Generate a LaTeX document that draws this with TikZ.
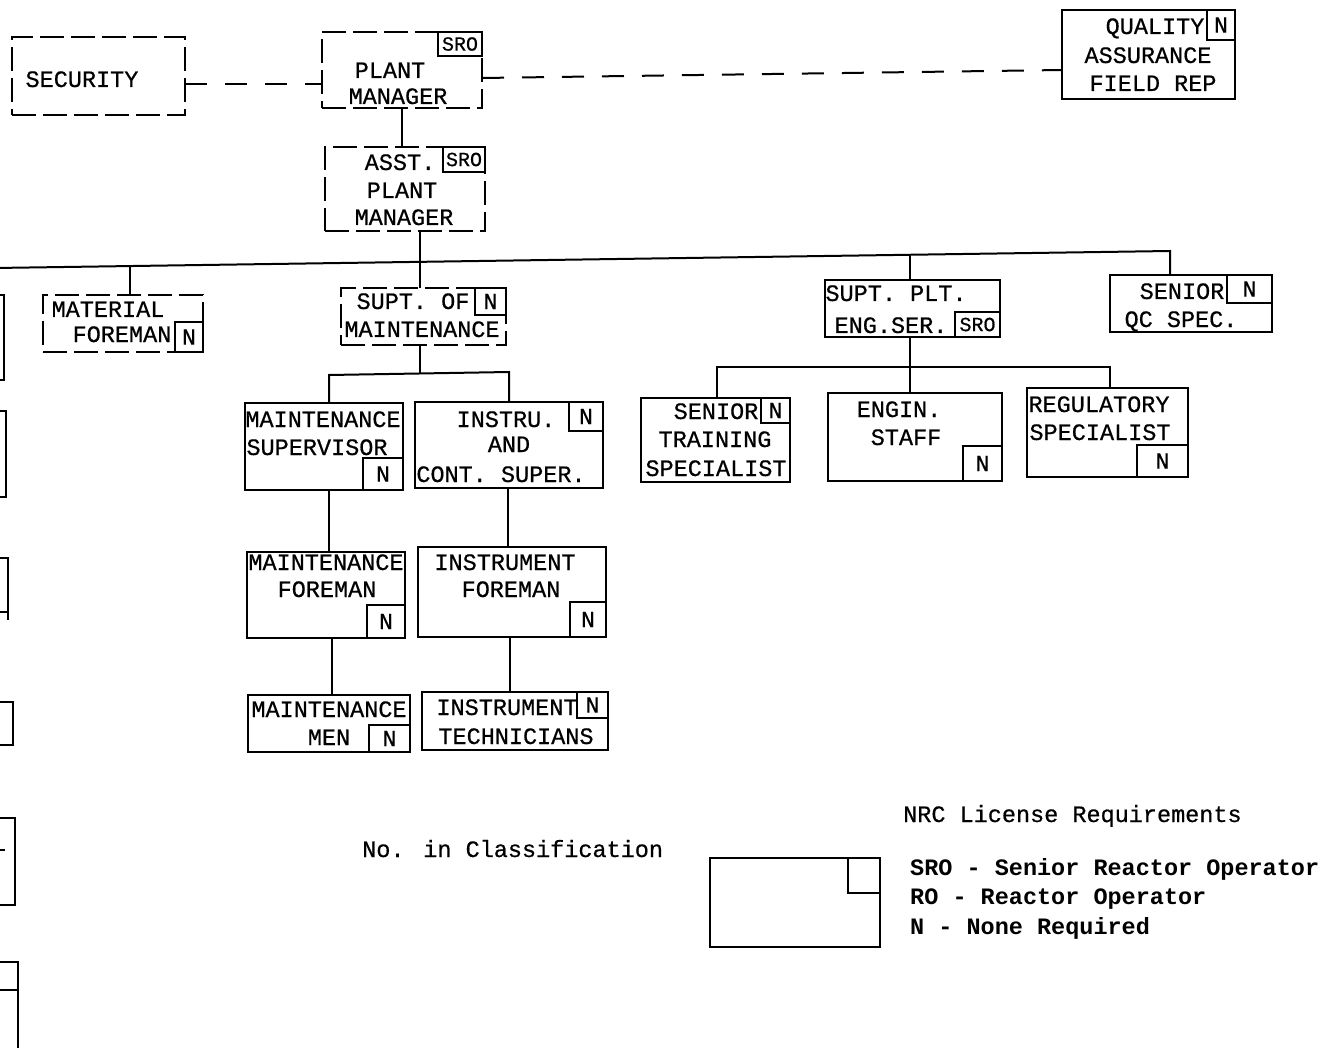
\documentclass[tikz,border=0pt]{standalone}
\usepackage{fontspec}
\setmainfont{Liberation Mono}
\usetikzlibrary{calc}
\begin{document}
\begin{tikzpicture}[x=1pt,y=-1pt,
 box/.style={draw, line width=2pt, inner sep=0pt, outer sep=0pt, anchor=north west},
 dbox/.style={box, dash pattern=on 24pt off 7pt},
 tag/.style={draw, line width=1.8pt, inner sep=0pt, outer sep=0pt, font=\fontsize{23}{24}\selectfont\addfontfeature{FakeBold=0.6}},
 stag/.style={tag, font=\fontsize{20}{22}\selectfont\addfontfeature{FakeBold=0.6}},
 lbl/.style={inner sep=0pt, anchor=base, font=\fontsize{23.5}{27}\selectfont\addfontfeature{FakeBold=0.6}},
 lbll/.style={lbl, anchor=base west},
 lblb/.style={lbll, font=\fontsize{23.5}{27}\selectfont\bfseries},
 conn/.style={line width=2pt},
 dconn/.style={line width=2pt, dash pattern=on 22pt off 18pt},
 frag/.style={line width=2pt}]
\fill[white] (0,0) rectangle (1327,1048);
\useasboundingbox (0,0) rectangle (1327,1048);

% ---- boxes ----
\node[dbox, minimum width=173pt, minimum height=78pt] (sec) at (12,37) {};
\node[dbox, minimum width=160pt, minimum height=76pt] (pm) at (322,32) {};
\node[stag, minimum width=44pt, minimum height=24pt, anchor=north east] (pmt) at (pm.north east) {SRO};
\node[dbox, minimum width=160pt, minimum height=84pt] (asst) at (325,147) {};
\node[stag, minimum width=42pt, minimum height=25pt, anchor=north east] (asstt) at (asst.north east) {SRO};
\node[box, minimum width=173pt, minimum height=89pt] (qa) at (1062,10) {};
\node[tag, minimum width=28pt, minimum height=30pt, anchor=north east] (qat) at (qa.north east) {N};
\node[dbox, minimum width=160pt, minimum height=57pt] (mat) at (43,295) {};
\node[tag, minimum width=28pt, minimum height=30pt, anchor=south east] (matt) at (mat.south east) {N};
\node[dbox, minimum width=165pt, minimum height=57pt] (som) at (341,288) {};
\node[tag, minimum width=31pt, minimum height=27pt, anchor=north east] (somt) at (som.north east) {N};
\node[box, minimum width=175pt, minimum height=57pt] (sp) at (825,280) {};
\node[stag, minimum width=45pt, minimum height=25pt, anchor=south east] (spt) at (sp.south east) {SRO};
\node[box, minimum width=162pt, minimum height=57pt] (sqc) at (1110,275) {};
\node[tag, minimum width=45pt, minimum height=28pt, anchor=north east] (sqct) at (sqc.north east) {N};
\node[box, minimum width=158pt, minimum height=87pt] (ms) at (245,403) {};
\node[tag, minimum width=40pt, minimum height=32pt, anchor=south east] (mst) at (ms.south east) {N};
\node[box, minimum width=188pt, minimum height=86pt] (ic) at (415,402) {};
\node[tag, minimum width=34pt, minimum height=29pt, anchor=north east] (ict) at (ic.north east) {N};
\node[box, minimum width=158pt, minimum height=86pt] (mf) at (247,552) {};
\node[tag, minimum width=38pt, minimum height=33pt, anchor=south east] (mft) at (mf.south east) {N};
\node[box, minimum width=188pt, minimum height=90pt] (instf) at (418,547) {};
\node[tag, minimum width=36pt, minimum height=35pt, anchor=south east] (instft) at (instf.south east) {N};
\node[box, minimum width=162pt, minimum height=57pt] (mm) at (248,695) {};
\node[tag, minimum width=41pt, minimum height=27pt, anchor=south east] (mmt) at (mm.south east) {N};
\node[box, minimum width=186pt, minimum height=58pt] (it) at (422,692) {};
\node[tag, minimum width=31pt, minimum height=26pt, anchor=north east] (itt) at (it.north east) {N};
\node[box, minimum width=149pt, minimum height=84pt] (st) at (641,398) {};
\node[tag, minimum width=29pt, minimum height=25pt, anchor=north east] (stt) at (st.north east) {N};
\node[box, minimum width=174pt, minimum height=88pt] (eng) at (828,393) {};
\node[tag, minimum width=39pt, minimum height=35pt, anchor=south east] (engt) at (eng.south east) {N};
\node[box, minimum width=161pt, minimum height=89pt] (reg) at (1027,388) {};
\node[tag, minimum width=51pt, minimum height=32pt, anchor=south east] (regt) at (reg.south east) {N};
\node[box, minimum width=170pt, minimum height=89pt] (leg) at (710,858) {};
\node[tag, minimum width=32pt, minimum height=35pt, anchor=north east] (legt) at (leg.north east) {};

% ---- labels ----
\node[lbl] (l1) at (82,87) {SECURITY};
\node[lbl] (l2) at (390,78) {PLANT};
\node[lbl] (l3) at (398,104) {MANAGER};
\node[lbl] (l4) at (400,170) {ASST.};
\node[lbl] (l5) at (402,198) {PLANT};
\node[lbl] (l6) at (404,225) {MANAGER};
\node[lbl] (l7) at (1155,34) {QUALITY};
\node[lbl] (l8) at (1148,63) {ASSURANCE};
\node[lbl] (l9) at (1153,91) {FIELD REP};
\node[lbl] (l10) at (108,317) {MATERIAL};
\node[lbl] (l11) at (122,342) {FOREMAN};
\node[lbl] (l12) at (413,309) {SUPT. OF};
\node[lbl] (l13) at (422,337) {MAINTENANCE};
\node[lbl] (l14) at (896,301) {SUPT. PLT.};
\node[lbl] (l15) at (891,333) {ENG.SER.};
\node[lbl] (l16) at (1182,299) {SENIOR};
\node[lbl] (l17) at (1181,327) {QC SPEC.};
\node[lbl] (l18) at (323,427) {MAINTENANCE};
\node[lbl] (l19) at (317,455) {SUPERVISOR};
\node[lbl] (l20) at (506,427) {INSTRU.};
\node[lbl] (l21) at (509,452) {AND};
\node[lbl] (l22) at (501,482) {CONT. SUPER.};
\node[lbl] (l23) at (326,570) {MAINTENANCE};
\node[lbl] (l24) at (327,597) {FOREMAN};
\node[lbl] (l25) at (505,570) {INSTRUMENT};
\node[lbl] (l26) at (511,597) {FOREMAN};
\node[lbl] (l27) at (329,717) {MAINTENANCE};
\node[lbl] (l28) at (329,745) {MEN};
\node[lbl] (l29) at (507,715) {INSTRUMENT};
\node[lbl] (l30) at (516,744) {TECHNICIANS};
\node[lbl] (l31) at (716,419) {SENIOR};
\node[lbl] (l32) at (715,447) {TRAINING};
\node[lbl] (l33) at (716,476) {SPECIALIST};
\node[lbl] (l34) at (899,417) {ENGIN.};
\node[lbl] (l35) at (906,445) {STAFF};
\node[lbl] (l36) at (1099,412) {REGULATORY};
\node[lbl] (l37) at (1100,440) {SPECIALIST};
\node[lbll] (l38) at (903,822) {NRC License Requirements};
\node[lbll] (l39) at (362,857) {No. in Classification};
\node[lblb] (l40) at (910,875) {SRO - Senior Reactor Operator};
\node[lblb] (l41) at (910,904) {RO - Reactor Operator};
\node[lblb] (l42) at (910,934) {N - None Required};

% ---- connectors ----
\coordinate (d1) at (0,84);
\coordinate (d2) at (0,78);
\coordinate (d3) at (0,70);
\draw[dconn] (sec.east |- d1) -- (pm.west |- d1);
\draw[dconn] (pm.east |- d2) -- (qa.west |- d3);
\draw[conn] (pm.south) -- (pm.south |- asst.north);

\coordinate (busL) at (-5,268);
\coordinate (busR) at (1170,251);
\coordinate (j1) at (130,266);
\coordinate (j2) at (420,262);
\coordinate (j3) at (910,255);
\draw[conn] (busL) -- (busR) -- (busR |- sqc.north);
\draw[conn] (j1) -- (j1 |- mat.north);
\draw[conn] (asst.south -| j2) -- (j2) -- (j2 |- som.north);
\draw[conn] (j3) -- (j3 |- sp.north);

\coordinate (ml) at (329,375);
\coordinate (mr) at (509,372);
\coordinate (m0) at (420,374);
\draw[conn] (som.south -| m0) -- (m0);
\draw[conn] (ml |- ms.north) -- (ml) -- (mr) -- (mr |- ic.north);
\coordinate (c1) at (329,0);
\coordinate (c2) at (332,0);
\coordinate (c3) at (508,0);
\coordinate (c4) at (510,0);
\draw[conn] (ms.south -| c1) -- (c1 |- mf.north);
\draw[conn] (mf.south -| c2) -- (c2 |- mm.north);
\draw[conn] (ic.south -| c3) -- (c3 |- instf.north);
\draw[conn] (instf.south -| c4) -- (c4 |- it.north);

\coordinate (el) at (717,367);
\coordinate (er) at (1110,367);
\coordinate (e0) at (910,367);
\draw[conn] (sp.south -| e0) -- (e0) -- (e0 |- eng.north);
\draw[conn] (el |- st.north) -- (el) -- (er) -- (er |- reg.north);

% ---- cut-off fragments at the left edge ----
\draw[frag] (-40,295) rectangle (4,380);
\draw[frag] (-40,411) rectangle (6,497);
\draw[frag] (-40,558) -- (8,558) -- (8,620);
\draw[frag] (-40,612) -- (8,612);
\draw[frag] (-40,702) rectangle (13,745);
\draw[frag] (-40,725) -- (0,725);
\draw[frag] (-40,818) rectangle (15,905);
\draw[frag] (-40,850) -- (5,850);
\draw[frag] (-40,962) rectangle (18,1070);
\draw[frag] (-40,990) -- (18,990);
\end{tikzpicture}
\end{document}
